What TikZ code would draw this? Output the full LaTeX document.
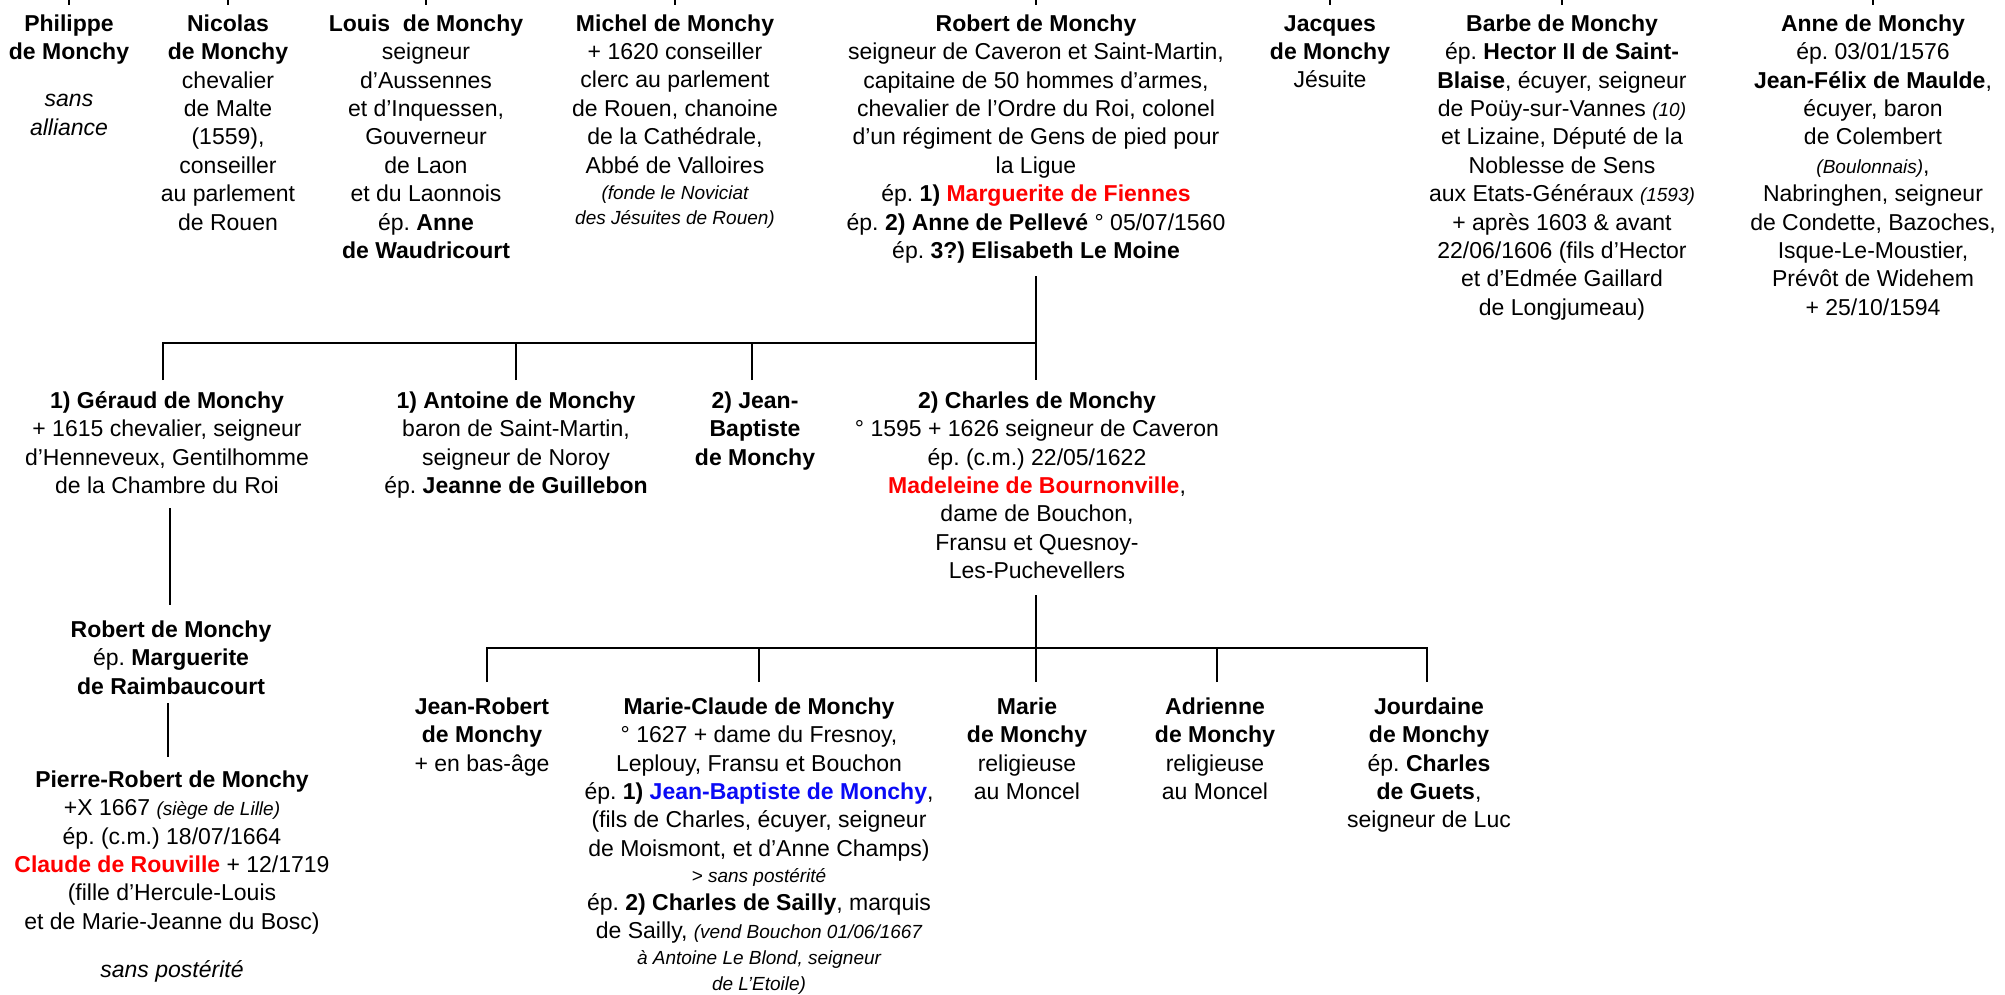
\documentclass[tikz,border=0pt]{standalone}
\usepackage{fontspec}
\setmainfont{Liberation Sans}
\frenchspacing
\definecolor{rd}{RGB}{255,0,0}
\definecolor{bl}{RGB}{10,10,245}
\newcommand{\fl}{\rule{0pt}{22pt}}
\newcommand{\sm}[1]{{\fontsize{19}{28.4}\selectfont\itshape #1}}
\tikzset{
  person/.style={anchor=north, align=center, inner sep=0pt, font=\fontsize{23}{28.4}\selectfont},
  link/.style={line width=2.3pt, line join=miter},
}
\begin{document}
\begin{tikzpicture}[x=1pt,y=-1pt]
\useasboundingbox (0,0) rectangle (2005,995);
% ---------- generation 1 ----------
\node[person] (philippe) at (69,9) {\fl\textbf{Philippe}\\\textbf{de Monchy}\\[19pt]\textit{sans}\\\textit{alliance}};
\node[person] (nicolas) at (228,9) {\fl\textbf{Nicolas}\\\textbf{de Monchy}\\chevalier\\de Malte\\(1559),\\conseiller\\au parlement\\de Rouen};
\node[person] (louis) at (426,9) {\fl\textbf{Louis\ \ de Monchy}\\seigneur\\d’Aussennes\\et d’Inquessen,\\Gouverneur\\de Laon\\et du Laonnois\\ép. \textbf{Anne}\\\textbf{de Waudricourt}};
\node[person] (michel) at (675,9) {\fl\textbf{Michel de Monchy}\\+ 1620 conseiller\\clerc au parlement\\de Rouen, chanoine\\de la Cathédrale,\\Abbé de Valloires\\[-2.4pt]\sm{(fonde le Noviciat}\\[-3.4pt]\sm{des Jésuites de Rouen)}};
\node[person] (robert) at (1036,9) {\fl\textbf{Robert de Monchy}\\seigneur de Caveron et Saint-Martin,\\capitaine de 50 hommes d’armes,\\chevalier de l’Ordre du Roi, colonel\\d’un régiment de Gens de pied pour\\la Ligue\\ép. \textbf{1) \textcolor{rd}{Marguerite de Fiennes}}\\ép. \textbf{2) Anne de Pellevé} ° 05/07/1560\\ép. \textbf{3?) Elisabeth Le Moine}};
\node[person] (jacques) at (1330,9) {\fl\textbf{Jacques}\\\textbf{de Monchy}\\Jésuite};
\node[person] (barbe) at (1562,9) {\fl\textbf{Barbe de Monchy}\\ép. \textbf{Hector II de Saint-}\\\textbf{Blaise}, écuyer, seigneur\\de Poüy-sur-Vannes \sm{(10)}\\et Lizaine, Député de la\\Noblesse de Sens\\aux Etats-Généraux \sm{(1593)}\\+ après 1603 \& avant\\22/06/1606 (fils d’Hector\\et d’Edmée Gaillard\\de Longjumeau)};
\node[person] (anne) at (1873,9) {\fl\textbf{Anne de Monchy}\\ép. 03/01/1576\\\textbf{Jean-Félix de Maulde},\\écuyer, baron\\de Colembert\\\sm{(Boulonnais)},\\Nabringhen, seigneur\\de Condette, Bazoches,\\Isque-Le-Moustier,\\Prévôt de Widehem\\+ 25/10/1594};
% ---------- generation 2 ----------
\node[person] (geraud) at (167,386) {\fl\textbf{1) Géraud de Monchy}\\+ 1615 chevalier, seigneur\\d’Henneveux, Gentilhomme\\de la Chambre du Roi};
\node[person] (antoine) at (516,386) {\fl\textbf{1) Antoine de Monchy}\\baron de Saint-Martin,\\seigneur de Noroy\\ép. \textbf{Jeanne de Guillebon}};
\node[person] (jeanbap) at (755,386) {\fl\textbf{2) Jean-}\\\textbf{Baptiste}\\\textbf{de Monchy}};
\node[person] (charles) at (1037,386) {\fl\textbf{2) Charles de Monchy}\\° 1595 + 1626 seigneur de Caveron\\ép. (c.m.) 22/05/1622\\\textbf{\textcolor{rd}{Madeleine de Bournonville}},\\dame de Bouchon,\\Fransu et Quesnoy-\\Les-Puchevellers};
% ---------- Géraud line ----------
\node[person] (robert2) at (171,615) {\fl\textbf{Robert de Monchy}\\ép. \textbf{Marguerite}\\\textbf{de Raimbaucourt}};
\node[person] (pierre) at (172,765) {\fl\textbf{Pierre-Robert de Monchy}\\+X 1667 \sm{(siège de Lille)}\\ép. (c.m.) 18/07/1664\\\textbf{\textcolor{rd}{Claude de Rouville}} + 12/1719\\(fille d’Hercule-Louis\\et de Marie-Jeanne du Bosc)\\[20pt]\textit{sans postérité}};
% ---------- generation 3 ----------
\node[person] (jeanrob) at (482,692) {\fl\textbf{Jean-Robert}\\\textbf{de Monchy}\\+ en bas-âge};
\node[person] (marieclaude) at (759,692) {\fl\textbf{Marie-Claude de Monchy}\\° 1627 + dame du Fresnoy,\\Leplouy, Fransu et Bouchon\\ép. \textbf{1) \textcolor{bl}{Jean-Baptiste de Monchy}},\\(fils de Charles, écuyer, seigneur\\de Moismont, et d’Anne Champs)\\[-2.4pt]\sm{> sans postérité}\\[-0.4pt]ép. \textbf{2) Charles de Sailly}, marquis\\de Sailly, \sm{(vend Bouchon 01/06/1667}\\[-2.4pt]\sm{à Antoine Le Blond, seigneur}\\[-2.4pt]\sm{de L’Etoile)}};
\node[person] (marie) at (1027,692) {\fl\textbf{Marie}\\\textbf{de Monchy}\\religieuse\\au Moncel};
\node[person] (adrienne) at (1215,692) {\fl\textbf{Adrienne}\\\textbf{de Monchy}\\religieuse\\au Moncel};
\node[person] (jourdaine) at (1429,692) {\fl\textbf{Jourdaine}\\\textbf{de Monchy}\\ép. \textbf{Charles}\\\textbf{de Guets},\\seigneur de Luc};
% ---------- top ticks (parents out of frame) ----------
\foreach \n in {philippe,nicolas,louis,michel,robert,jacques,barbe,anne}{
  \draw[link] (\n.north |- 0,0) -- (\n.north |- 0,5);
}
% ---------- connectors ----------
\coordinate (r1) at (1036,276);
\coordinate (j1) at (1036,343);
\coordinate (c1) at (1036,380);
\coordinate (g1) at (163,380);
\coordinate (a1) at (516,380);
\coordinate (jb1) at (752,380);
\draw[link] (r1) -- (c1);
\draw[link] (g1) |- (j1);
\draw[link] (a1) -- (a1 |- j1);
\draw[link] (jb1) -- (jb1 |- j1);
\coordinate (g2) at (170,508);
\coordinate (g3) at (170,605);
\draw[link] (g2) -- (g3);
\coordinate (rr1) at (168,703);
\coordinate (rr2) at (168,757);
\draw[link] (rr1) -- (rr2);
\coordinate (c2) at (1036,595);
\coordinate (j2) at (1036,648);
\coordinate (m1) at (1036,682);
\coordinate (jr1) at (487,682);
\coordinate (mc1) at (759,682);
\coordinate (ad1) at (1217,682);
\coordinate (jo1) at (1427,682);
\draw[link] (c2) -- (m1);
\draw[link] (jr1) |- (j2) -| (jo1);
\draw[link] (mc1) -- (mc1 |- j2);
\draw[link] (ad1) -- (ad1 |- j2);
\end{tikzpicture}
\end{document}
